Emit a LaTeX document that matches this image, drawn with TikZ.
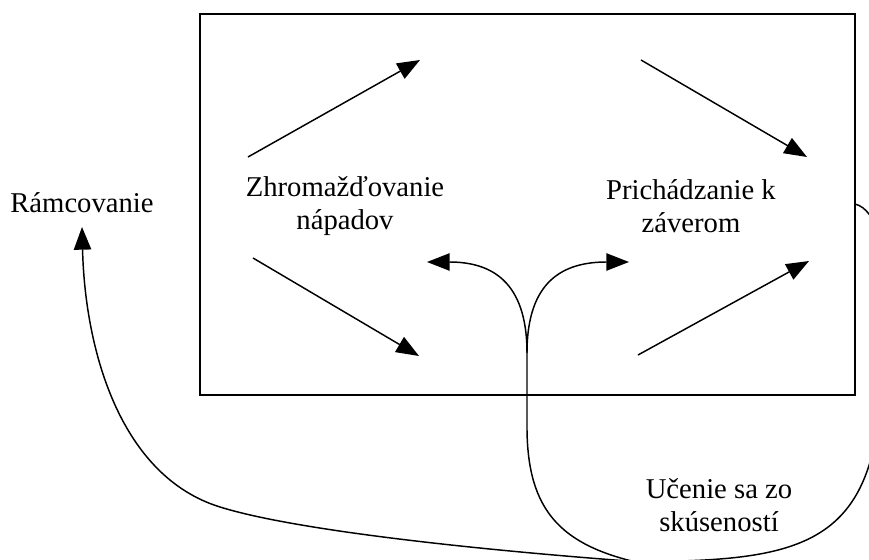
\documentclass[tikz,border=0pt]{standalone}
\usepackage{fontspec}
\setmainfont{Liberation Serif}
\usetikzlibrary{arrows.meta}
\begin{document}
\begin{tikzpicture}[x=0.75pt,y=-0.75pt,
  line width=1.1pt,
  tip/.style={-{Triangle[length=17pt,width=13pt]}},
  lbl/.style={font=\fontsize{21.5}{25}\selectfont, align=center, inner sep=0pt}]
\useasboundingbox (0,0) rectangle (869,560);
\clip (0,0) rectangle (869,560);

% outer frame of the reasoning phase
\coordinate (boxNW) at (200,14);
\coordinate (boxSE) at (855,395);
\draw (boxNW) rectangle (boxSE);

% labels
\node[lbl] (gather)   at (345,206) {Zhromažďovanie\\nápadov};
\node[lbl] (conclude) at (691,206) {Prichádzanie k\\záverom};
\node[lbl] (framing)  at (82,203)  {Rámcovanie};
\node[lbl] (learn)    at (719,505) {Učenie sa zo\\skúseností};

% straight arrows inside the frame
\coordinate (a1s) at (248,157); \coordinate (a1e) at (420,60);
\coordinate (a2s) at (641,60);  \coordinate (a2e) at (807,157);
\coordinate (a3s) at (253,258); \coordinate (a3e) at (419,356);
\coordinate (a4s) at (638,355); \coordinate (a4e) at (809,261);
\draw[tip] (a1s) -- (a1e);
\draw[tip] (a2s) -- (a2e);
\draw[tip] (a3s) -- (a3e);
\draw[tip] (a4s) -- (a4e);

% central stem splitting into two branches
\coordinate (stemTop)    at (527,353);
\coordinate (stemLow)    at (527,430);
\coordinate (gatherIn)   at (427,262);
\coordinate (concludeIn) at (629,262);
\coordinate (stemFoot)   at (640,563);
\draw[tip] (stemTop) .. controls (527,280) and (490,262) .. (gatherIn);
\draw[tip] (stemTop) .. controls (527,280) and (564,262) .. (concludeIn);
\draw (stemTop) -- (stemLow) .. controls (528,510) and (560,545) .. (stemFoot);

% return curve to the framing label
\coordinate (leftFoot)  at (655,563);
\coordinate (leftBend)  at (220,507);
\coordinate (framingIn) at (82,227);
\draw[tip] (leftFoot) .. controls (500,552) and (300,532) .. (leftBend)
  .. controls (120,476) and (85,350) .. (framingIn);

% loop around the right side
\coordinate (rightOut)  at (855,204);
\coordinate (rightSide) at (872,455);
\coordinate (rightFoot) at (680,561);
\draw (rightOut) .. controls (900,215) and (895,380) .. (rightSide)
  .. controls (850,540) and (790,558) .. (rightFoot);
\end{tikzpicture}
\end{document}
